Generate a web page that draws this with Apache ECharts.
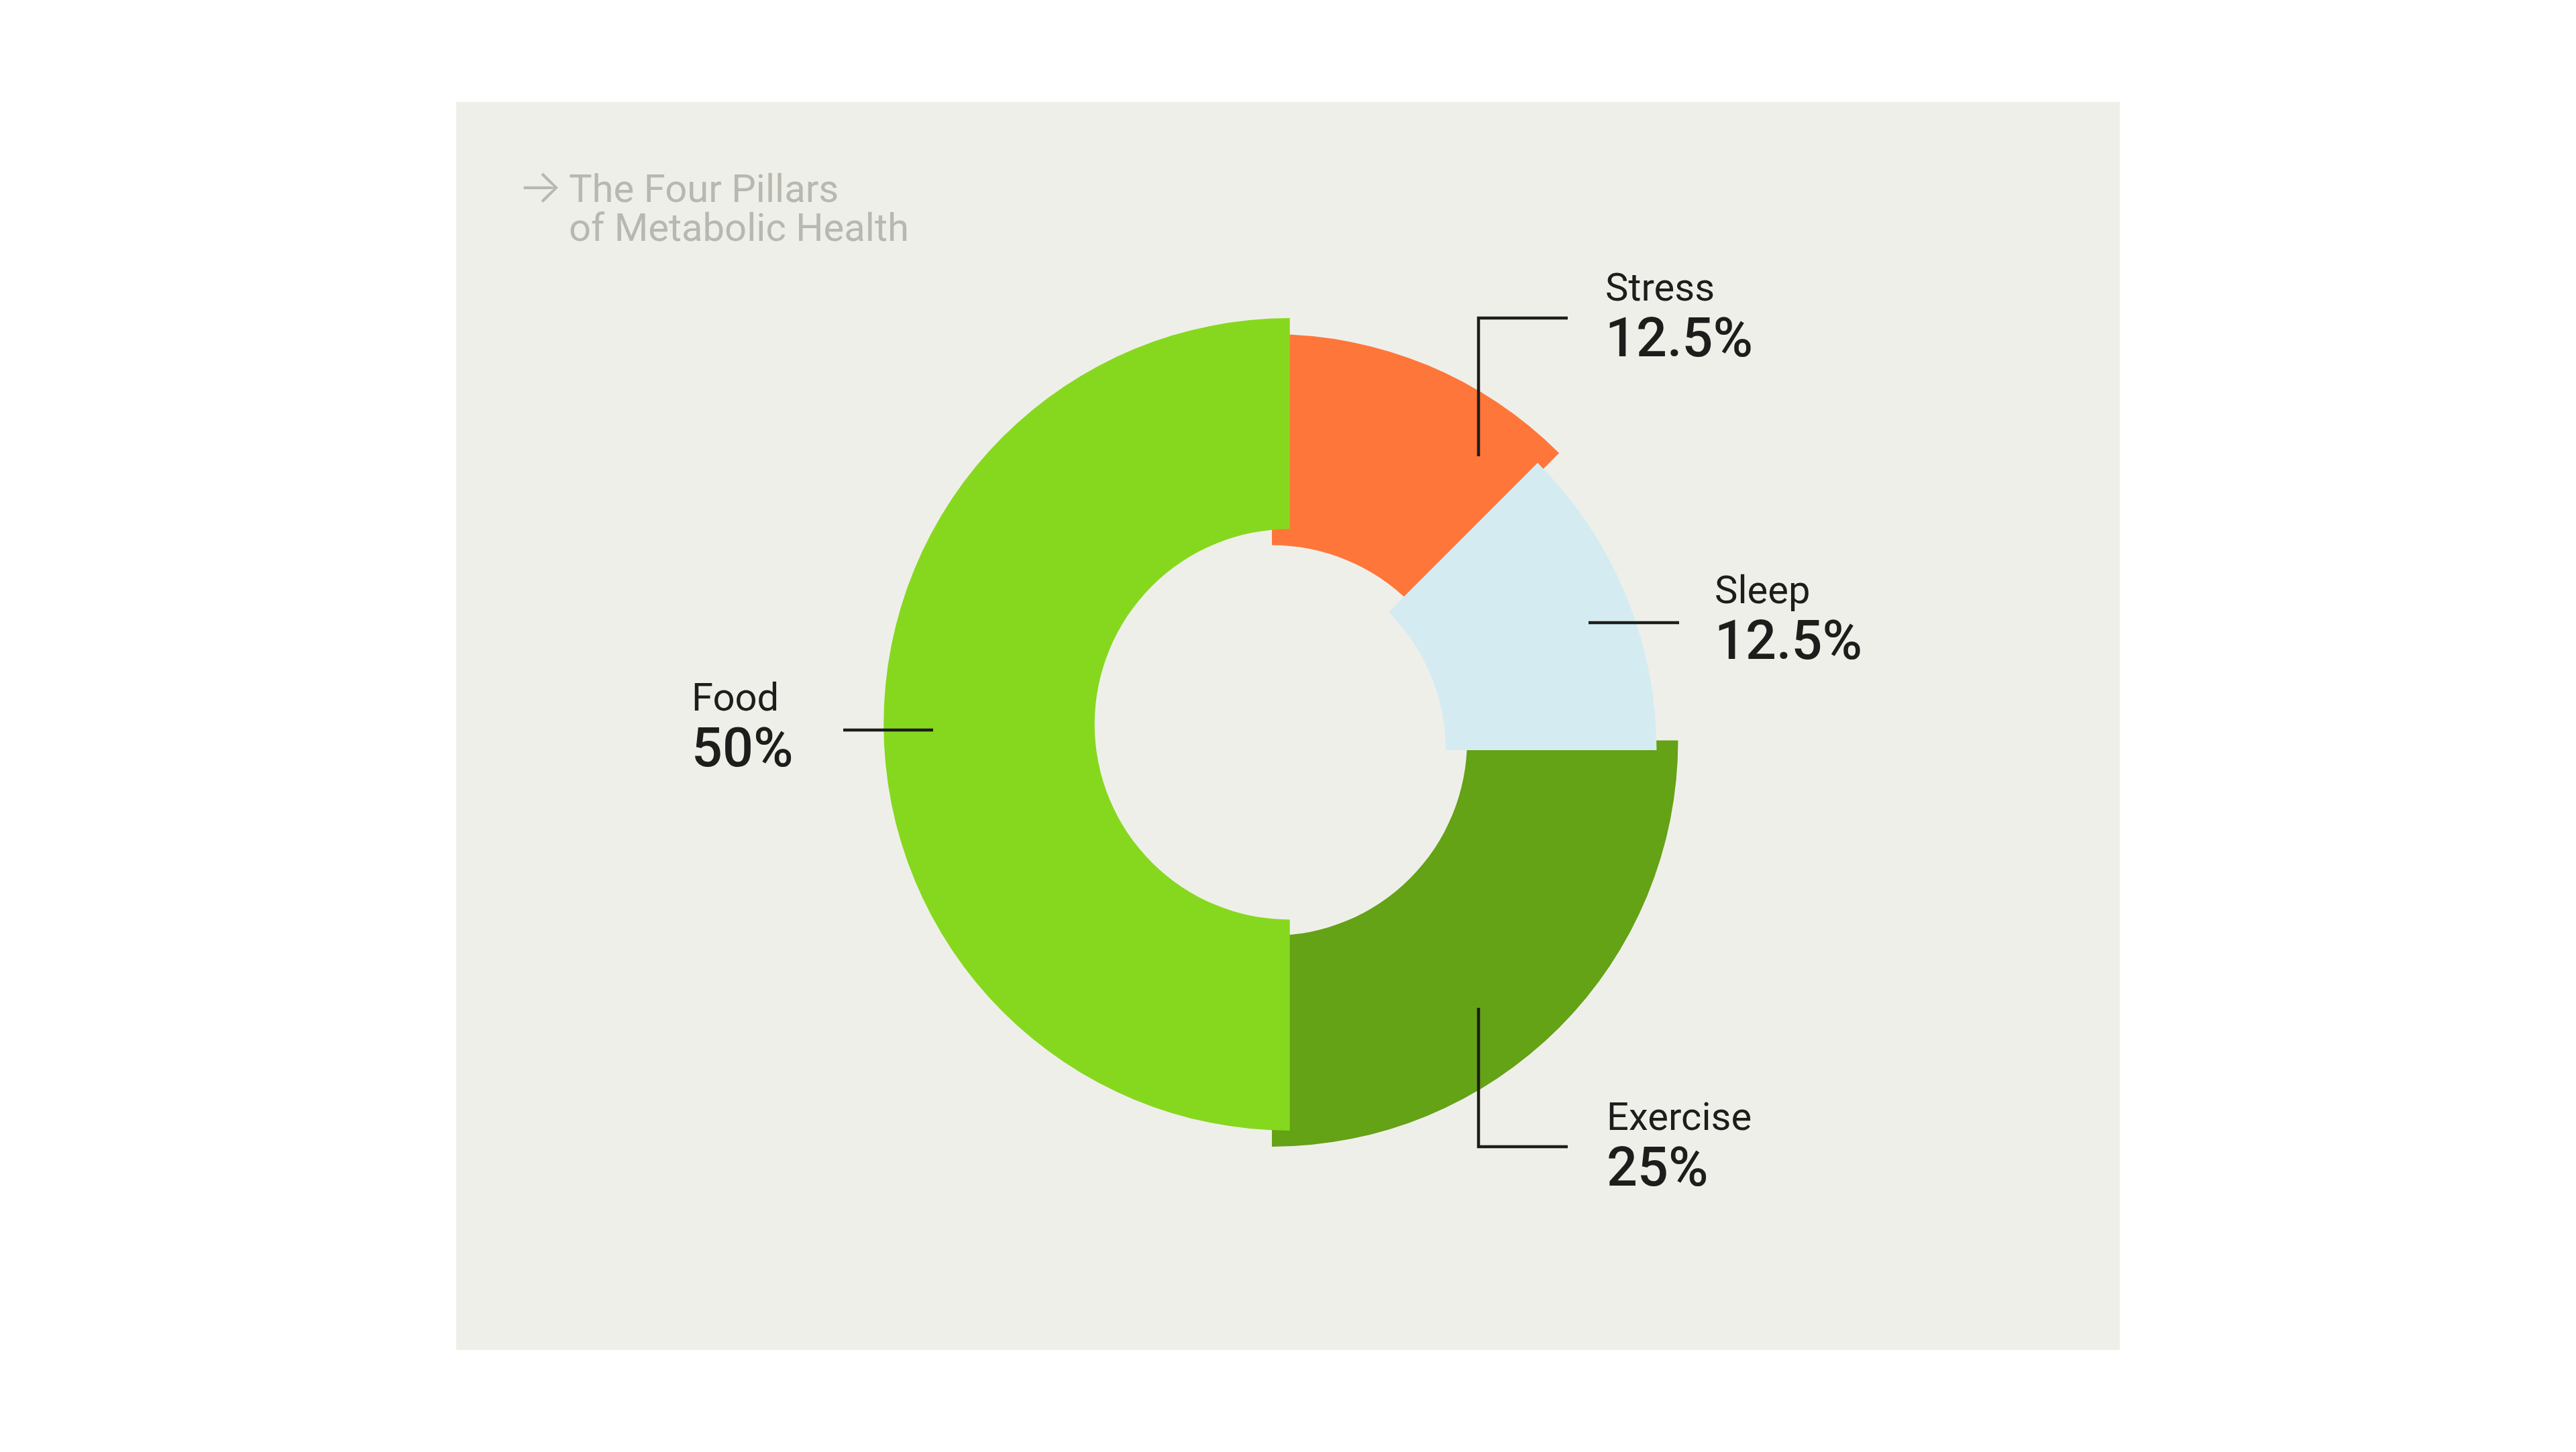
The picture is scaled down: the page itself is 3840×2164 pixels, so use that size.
<!DOCTYPE html>
<html>
<head>
<meta charset="utf-8">
<script src="https://cdn.jsdelivr.net/npm/echarts@6/dist/echarts.min.js"></script>
<style>
html,body{margin:0;padding:0;background:#ffffff;}
#chart{width:3840px;height:2164px;}
</style>
</head>
<body>
<div id="chart"></div>
<script>
// ---- data ----
const categories = ['Stress', 'Sleep', 'Exercise', 'Food'];
const shares = [12.5, 12.5, 25, 50];
const titleLines = ['The Four Pillars', 'of Metabolic Health'];
const titleArrow = '\u2192';

// ---- styling / layout ----
const sliceColors = { Stress: '#FF763A', Sleep: '#D4ECF1', Exercise: '#64A216', Food: '#86D81E' };
// every slice is drawn with its own slightly offset centre
const sliceCenters = {
  Stress: [1896, 1103.5],
  Sleep: [1864, 1118],
  Exercise: [1896, 1103.5],
  Food: [1922.7, 1079.5]
};
const drawOrder = ['Stress', 'Exercise', 'Sleep', 'Food'];
const labelPos = {
  Stress: [2393, 400],
  Sleep: [2556, 851],
  Exercise: [2395, 1636],
  Food: [1031, 1011]
};
const leaderPts = {
  Stress: [[2204, 680], [2204, 474], [2337, 474]],
  Sleep: [[2368, 928], [2503, 928]],
  Exercise: [[2204, 1502], [2204, 1709], [2337, 1709]],
  Food: [[1257, 1088], [1391, 1088]]
};
const inkColor = '#1d1d1b';
const font = 'Roboto';

const series = drawOrder.map(function (name) {
  const idx = categories.indexOf(name);
  return {
    type: 'pie',
    name: name,
    center: sliceCenters[name],
    radius: [291, 605.5],
    startAngle: 90,
    clockwise: true,
    avoidLabelOverlap: false,
    silent: true,
    animation: false,
    emphasis: { disabled: true },
    itemStyle: { borderWidth: 0 },
    label: { show: false },
    labelLine: { show: false },
    data: categories.map(function (c, i) {
      const own = (c === name);
      return {
        name: c,
        value: shares[i],
        itemStyle: { color: own ? sliceColors[c] : 'rgba(0,0,0,0)' },
        label: own ? {
          show: true,
          position: 'outside',
          formatter: function (p) { return '{n|' + p.name + '}\n{v|' + p.value + '%}'; },
          rich: {
            n: { fontFamily: font, fontSize: 58, lineHeight: 66, color: inkColor },
            v: { fontFamily: font, fontSize: 81, fontWeight: 500, lineHeight: 90, color: inkColor }
          }
        } : { show: false },
        labelLine: { show: false }
      };
    }),
    labelLayout: function (p) {
      if (p.dataIndex !== idx) return {};
      return {
        x: labelPos[name][0],
        y: labelPos[name][1],
        align: 'left',
        verticalAlign: 'top'
      };
    }
  };
});

const leaderGraphics = categories.map(function (c) {
  return {
    type: 'polyline',
    z: 100,
    silent: true,
    shape: { points: leaderPts[c] },
    style: { stroke: inkColor, lineWidth: 4.5, fill: null, lineCap: 'butt', lineJoin: 'miter' }
  };
});

const chart = echarts.init(document.getElementById('chart'), null, { renderer: 'canvas' });
chart.setOption({
  backgroundColor: '#ffffff',
  animation: false,
  graphic: [{
    type: 'rect',
    z: -10,
    silent: true,
    shape: { x: 680, y: 152, width: 2480, height: 1860 },
    style: { fill: '#EFEFEA' }
  }].concat(leaderGraphics),
  title: [{
    text: titleArrow,
    left: 772,
    top: 246,
    padding: 0,
    textStyle: { fontFamily: 'Inter', fontSize: 70, lineHeight: 70, fontWeight: 300, color: '#B8B8B1' }
  }, {
    text: titleLines.join('\n'),
    left: 848,
    top: 258,
    padding: 0,
    textStyle: { fontFamily: font, fontSize: 58, lineHeight: 57.5, fontWeight: 'normal', color: '#B8B8B1' }
  }],
  series: series
});
</script>
</body>
</html>
